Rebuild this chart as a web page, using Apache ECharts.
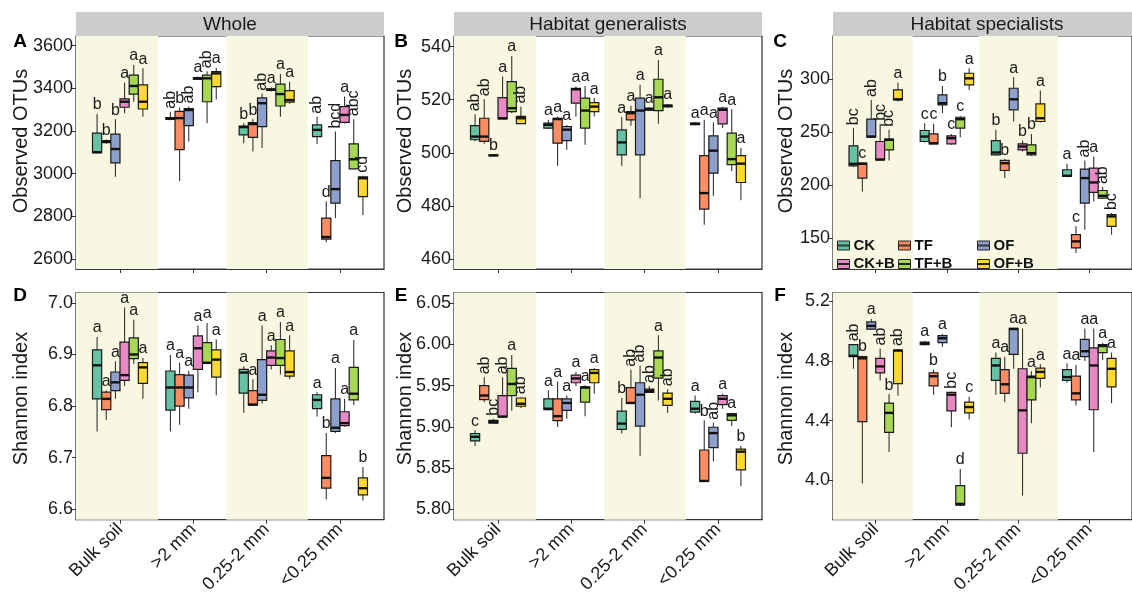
<!DOCTYPE html>
<html>
<head>
<meta charset="utf-8">
<script src="https://cdn.jsdelivr.net/npm/echarts@6/dist/echarts.min.js"></script>
<style>
  html, body { margin: 0; padding: 0; background: #fff; }
  #chart { width: 1132px; height: 596px; }
</style>
</head>
<body>
<div id="chart"></div>
<script>
// Soil aggregate fractions and fertilisation treatments
const fractions = ['Bulk soil', '>2 mm', '0.25-2 mm', '<0.25 mm'];
const treatments = ['CK', 'TF', 'OF', 'CK+B', 'TF+B', 'OF+B'];
const treatmentColors = ['#66C2A5', '#FC8D62', '#8DA0CB', '#E78AC3', '#A6D854', '#FFD92F'];

// Box statistics: [treatment][fraction] = [min, Q1, median, Q3, max]
const otuWhole = [
  [[3095, 3098, 3100, 3190, 3280], [3250, 3254, 3258, 3262, 3290], [3142, 3181, 3218, 3223, 3236], [3139, 3173, 3205, 3228, 3267]],
  [[3140, 3145, 3150, 3155, 3160], [2965, 3112, 3260, 3292, 3310], [3103, 3170, 3232, 3239, 3255], [2677, 2692, 2702, 2791, 2869]],
  [[2985, 3050, 3115, 3185, 3255], [3150, 3225, 3298, 3305, 3315], [3120, 3220, 3330, 3355, 3375], [2791, 2861, 2927, 3061, 3197]],
  [[3283, 3311, 3337, 3350, 3427], [3440, 3443, 3446, 3450, 3455], [3385, 3390, 3393, 3397, 3405], [3235, 3240, 3275, 3314, 3361]],
  [[3337, 3373, 3411, 3462, 3509], [3236, 3337, 3447, 3462, 3480], [3267, 3317, 3373, 3420, 3467], [3020, 3022, 3067, 3139, 3255]],
  [[3267, 3303, 3337, 3416, 3494], [3348, 3408, 3470, 3478, 3495], [3328, 3335, 3345, 3389, 3431], [2806, 2892, 2978, 2985, 2990]]
];
const otuGeneralists = [
  [[504.3, 504.9, 506.1, 510.2, 514.5], [509.0, 509.3, 510.5, 511.2, 512.4], [495.1, 499.2, 503.9, 508.6, 513.4], [510.4, 510.6, 510.9, 511.2, 511.5]],
  [[503.4, 504.3, 506.1, 513.0, 520.2], [495.1, 503.6, 512.7, 513.0, 513.7], [510.2, 512.4, 514.9, 515.5, 517.7], [472.9, 478.8, 484.8, 498.9, 512.4]],
  [[498.8, 498.9, 499.0, 499.2, 499.4], [501.1, 504.6, 508.7, 509.9, 510.5], [482.9, 499.2, 515.9, 520.6, 525.6], [483.8, 492.3, 500.8, 506.4, 511.4]],
  [[512.7, 512.8, 513.0, 520.8, 528.7], [513.7, 518.7, 523.9, 524.3, 525.0], [515.8, 516.1, 516.4, 516.8, 517.2], [509.3, 510.9, 516.2, 516.8, 517.3]],
  [[514.9, 515.5, 516.8, 526.8, 536.5], [503.0, 509.3, 515.9, 520.6, 525.2], [510.9, 515.9, 520.9, 527.7, 535.0], [493.0, 495.5, 497.6, 507.4, 516.4]],
  [[510.9, 511.0, 513.0, 513.7, 517.4], [513.7, 515.5, 517.4, 518.9, 520.6], [517.0, 517.3, 517.7, 518.0, 518.4], [482.1, 488.8, 495.9, 498.9, 501.8]]
];
const otuSpecialists = [
  [[217.0, 218.2, 220.1, 237.1, 253.8], [240.2, 241.2, 245.9, 251.6, 258.5], [228.0, 228.6, 230.8, 242.1, 252.2], [207.5, 208.2, 208.8, 214.5, 220.1]],
  [[194.0, 206.6, 220.1, 220.7, 221.5], [238.5, 239.0, 239.6, 248.4, 257.9], [206.6, 213.8, 220.7, 223.3, 224.5], [135.8, 140.6, 146.8, 153.1, 161.0]],
  [[245.0, 245.3, 245.9, 262.3, 280.5], [267.9, 275.8, 277.4, 285.2, 293.7], [260.1, 271.1, 281.1, 291.5, 301.9], [157.8, 183.0, 206.6, 215.1, 223.3]],
  [[223.5, 223.9, 224.2, 241.2, 257.9], [238.0, 239.0, 244.3, 246.5, 248.4], [231.8, 233.3, 236.5, 239.0, 242.1], [184.6, 193.1, 202.5, 216.0, 227.0]],
  [[223.3, 233.3, 242.8, 243.4, 252.2], [245.3, 253.8, 262.3, 264.1, 265.4], [227.7, 228.6, 230.2, 238.0, 248.4], [186.8, 187.7, 189.9, 194.9, 198.1]],
  [[278.9, 280.5, 281.1, 289.9, 296.9], [289.9, 294.7, 300.9, 305.7, 310.4], [259.1, 260.1, 263.2, 276.7, 289.3], [153.1, 161.0, 170.4, 172.0, 173.6]]
];
const shannonWhole = [
  [[6.751, 6.814, 6.879, 6.909, 6.934], [6.751, 6.792, 6.836, 6.868, 6.899], [6.787, 6.825, 6.865, 6.871, 6.877], [6.780, 6.795, 6.812, 6.822, 6.827]],
  [[6.773, 6.793, 6.814, 6.827, 6.830], [6.764, 6.800, 6.836, 6.861, 6.884], [6.801, 6.802, 6.803, 6.830, 6.852], [6.619, 6.641, 6.661, 6.704, 6.748]],
  [[6.814, 6.830, 6.846, 6.866, 6.887], [6.795, 6.816, 6.836, 6.860, 6.868], [6.805, 6.811, 6.822, 6.890, 6.956], [6.748, 6.751, 6.758, 6.814, 6.874]],
  [[6.839, 6.850, 6.860, 6.924, 6.991], [6.827, 6.871, 6.912, 6.936, 6.956], [6.871, 6.879, 6.894, 6.907, 6.918], [6.760, 6.762, 6.767, 6.789, 6.814]],
  [[6.882, 6.892, 6.900, 6.932, 6.967], [6.881, 6.883, 6.884, 6.923, 6.961], [6.861, 6.879, 6.893, 6.929, 6.963], [6.802, 6.812, 6.824, 6.875, 6.928]],
  [[6.814, 6.844, 6.875, 6.884, 6.893], [6.821, 6.856, 6.890, 6.909, 6.929], [6.852, 6.858, 6.866, 6.907, 6.937], [6.617, 6.628, 6.641, 6.661, 6.682]]
];
const shannonGeneralists = [
  [[5.877, 5.883, 5.888, 5.892, 5.896], [5.920, 5.921, 5.922, 5.934, 5.9445], [5.892, 5.897, 5.904, 5.919, 5.935], [5.916, 5.918, 5.922, 5.931, 5.938]],
  [[5.930, 5.933, 5.938, 5.950, 5.960], [5.900, 5.9075, 5.913, 5.934, 5.955], [5.928, 5.9287, 5.929, 5.9476, 5.9693], [5.834, 5.8343, 5.8345, 5.872, 5.908]],
  [[5.904, 5.9045, 5.906, 5.908, 5.910], [5.910, 5.920, 5.929, 5.934, 5.938], [5.865, 5.901, 5.939, 5.9535, 5.9744], [5.858, 5.875, 5.8925, 5.8996, 5.905]],
  [[5.911, 5.912, 5.9125, 5.938, 5.960], [5.9496, 5.9535, 5.9587, 5.9626, 5.9665], [5.9413, 5.9417, 5.9437, 5.9457, 5.9496], [5.922, 5.927, 5.934, 5.938, 5.940]],
  [[5.920, 5.938, 5.952, 5.971, 5.987], [5.913, 5.930, 5.9476, 5.9484, 5.9505], [5.932, 5.959, 5.984, 5.992, 6.011], [5.901, 5.908, 5.914, 5.916, 5.917]],
  [[5.923, 5.925, 5.928, 5.935, 5.936], [5.940, 5.9535, 5.9654, 5.9693, 5.9713], [5.917, 5.926, 5.934, 5.941, 5.9457], [5.828, 5.848, 5.870, 5.873, 5.877]]
];
const shannonSpecialists = [
  [[4.748, 4.829, 4.835, 4.910, 4.912], [4.905, 4.910, 4.918, 4.927, 4.935], [4.574, 4.670, 4.770, 4.818, 4.857], [4.655, 4.670, 4.692, 4.742, 4.785]],
  [[3.978, 4.393, 4.818, 4.829, 4.836], [4.574, 4.633, 4.698, 4.720, 4.742], [4.524, 4.583, 4.644, 4.742, 4.829], [4.502, 4.539, 4.583, 4.698, 4.775]],
  [[5.010, 5.0145, 5.036, 5.0625, 5.084], [4.895, 4.923, 4.953, 4.971, 4.982], [4.748, 4.844, 5.015, 5.019, 5.023], [4.801, 4.829, 4.866, 4.945, 5.019]],
  [[4.670, 4.720, 4.764, 4.818, 4.884], [4.356, 4.465, 4.574, 4.589, 4.594], [3.897, 4.181, 4.469, 4.748, 5.019], [4.190, 4.473, 4.770, 4.888, 5.019]],
  [[4.190, 4.321, 4.452, 4.517, 4.578], [3.825, 3.832, 3.841, 3.963, 4.076], [4.382, 4.539, 4.692, 4.698, 4.731], [4.807, 4.857, 4.901, 4.910, 4.923]],
  [[4.567, 4.648, 4.870, 4.873, 4.880], [4.408, 4.452, 4.491, 4.524, 4.561], [4.622, 4.683, 4.727, 4.753, 4.779], [4.517, 4.626, 4.748, 4.818, 4.857]]
];

// Significance letters: [treatment][fraction]
const lettersOtuWhole = [
  ['b', 'ab', 'b', 'ab'], ['b', 'b', 'b', 'd'], ['b', 'ab', 'ab', 'bcd'],
  ['a', 'a', 'a', 'a'], ['a', 'ab', 'a', 'abc'], ['a', 'a', 'a', 'cd']
];
const lettersOtuGeneralists = [
  ['ab', 'a', 'a', 'a'], ['ab', 'a', 'a', 'a'], ['b', 'a', 'a', 'a'],
  ['a', 'a', 'a', 'a'], ['a', 'a', 'a', 'a'], ['ab', 'a', 'a', 'a']
];
const lettersOtuSpecialists = [
  ['bc', 'c', 'b', 'a'], ['c', 'c', 'b', 'c'], ['ab', 'b', 'a', 'ab'],
  ['bc', 'c', 'b', 'a'], ['bc', 'c', 'b', 'ab'], ['a', 'a', 'a', 'bc']
];
const lettersShannonWhole = [
  ['a', 'a', 'a', 'a'], ['a', 'a', 'a', 'b'], ['a', 'a', 'a', 'a'],
  ['a', 'a', 'a', 'a'], ['a', 'a', 'a', 'a'], ['a', 'a', 'a', 'b']
];
const lettersShannonGeneralists = [
  ['c', 'a', 'b', 'a'], ['ab', 'a', 'ab', 'b'], ['bc', 'a', 'ab', 'ab'],
  ['ab', 'a', 'ab', 'a'], ['a', 'a', 'a', 'a'], ['ab', 'a', 'ab', 'b']
];
const lettersShannonSpecialists = [
  ['ab', 'a', 'a', 'a'], ['b', 'b', 'a', 'a'], ['a', 'a', 'a', 'a'],
  ['ab', 'bc', 'a', 'a'], ['b', 'd', 'a', 'a'], ['ab', 'c', 'a', 'a']
];

// Y-axis tick labels per panel
const ticksOtuWhole = [2600, 2800, 3000, 3200, 3400, 3600];
const ticksOtuGeneralists = [460, 480, 500, 520, 540];
const ticksOtuSpecialists = [150, 200, 250, 300];
const ticksShannonWhole = [6.6, 6.7, 6.8, 6.9, 7.0];
const ticksShannonGeneralists = [5.80, 5.85, 5.90, 5.95, 6.00, 6.05];
const ticksShannonSpecialists = [4.0, 4.4, 4.8, 5.2];

// Panel layout
const FONT = '"Liberation Sans", Arial, Helvetica, sans-serif';
const TEXT = '#1a1a1a';
const colLefts = [76, 454, 833];
const rowTops = [36, 292.5];
const plotW = 308, plotH = 233;
const dodgeStep = 0.125;

const panels = [
  { stats: otuWhole, letters: lettersOtuWhole, range: [2552, 3645.5], ticks: ticksOtuWhole, dec: 0, col: 0, row: 0, tag: 'A', strip: 'Whole', title: 'Observed OTUs' },
  { stats: otuGeneralists, letters: lettersOtuGeneralists, range: [456.2, 544.0], ticks: ticksOtuGeneralists, dec: 0, col: 1, row: 0, tag: 'B', strip: 'Habitat generalists', title: 'Observed OTUs' },
  { stats: otuSpecialists, letters: lettersOtuSpecialists, range: [120.7, 340.9], ticks: ticksOtuSpecialists, dec: 0, col: 2, row: 0, tag: 'C', strip: 'Habitat specialists', title: 'Observed OTUs' },
  { stats: shannonWhole, letters: lettersShannonWhole, range: [6.580, 7.020], ticks: ticksShannonWhole, dec: 1, col: 0, row: 1, tag: 'D', title: 'Shannon index' },
  { stats: shannonGeneralists, letters: lettersShannonGeneralists, range: [5.7876, 6.0628], ticks: ticksShannonGeneralists, dec: 2, col: 1, row: 1, tag: 'E', title: 'Shannon index' },
  { stats: shannonSpecialists, letters: lettersShannonSpecialists, range: [3.735, 5.260], ticks: ticksShannonSpecialists, dec: 1, col: 2, row: 1, tag: 'F', title: 'Shannon index' }
];

const grids = [], xAxes = [], yAxes = [], series = [], graphics = [];

panels.forEach((p, pi) => {
  const left = colLefts[p.col], top = rowTops[p.row];
  grids.push({
    left: left, top: top, width: plotW, height: plotH,
    show: true, backgroundColor: '#ffffff', borderColor: '#333333', borderWidth: 1.2
  });
  xAxes.push({
    type: 'value', gridIndex: pi, min: 0.4, max: 4.6,
    axisLine: { show: true, onZero: false, lineStyle: { color: '#333333', width: 1.2 } },
    axisTick: { show: true, length: 4, customValues: [1, 2, 3, 4], lineStyle: { color: '#333333' } },
    axisLabel: {
      show: p.row === 1, customValues: [1, 2, 3, 4], rotate: 45, margin: 7,
      fontSize: 18, fontFamily: FONT, color: TEXT,
      formatter: v => fractions[Math.round(v) - 1]
    },
    splitLine: { show: false }
  });
  yAxes.push({
    type: 'value', gridIndex: pi, min: p.range[0], max: p.range[1],
    axisLine: { show: true, lineStyle: { color: '#333333', width: 1.2 } },
    axisTick: { show: true, length: 4, customValues: p.ticks, lineStyle: { color: '#333333' } },
    axisLabel: {
      customValues: p.ticks, margin: 3, fontSize: 18, fontFamily: FONT, color: TEXT,
      formatter: v => Number(v).toFixed(p.dec)
    },
    splitLine: { show: false }
  });

  // alternating shaded fraction bands
  series.push({
    type: 'custom', xAxisIndex: pi, yAxisIndex: pi, z: 1, silent: true,
    data: [], renderItem: () => null,
    markArea: {
      silent: true, itemStyle: { color: '#f8f8e2' },
      data: [[{ xAxis: 0.4 }, { xAxis: 1.52 }], [{ xAxis: 2.45 }, { xAxis: 3.56 }]]
    }
  });

  treatments.forEach((tName, t) => {
    const offset = (t - 2.5) * dodgeStep;
    series.push({
      type: 'custom', name: tName, xAxisIndex: pi, yAxisIndex: pi, z: 3,
      itemStyle: { color: treatmentColors[t] },
      data: fractions.map((f, i) => [i + 1 + offset].concat(p.stats[t][i])),
      renderItem: (params, api) => {
        const x = api.value(0);
        const mn = api.value(1), q1 = api.value(2), md = api.value(3), q3 = api.value(4), mx = api.value(5);
        const w = api.size([dodgeStep, 0])[0];
        const pMin = api.coord([x, mn]), pQ1 = api.coord([x, q1]), pMd = api.coord([x, md]);
        const pQ3 = api.coord([x, q3]), pMax = api.coord([x, mx]);
        const cx = pMin[0];
        const letter = p.letters[t][params.dataIndex];
        const vertical = letter.length > 1;
        return {
          type: 'group',
          children: [
            { type: 'line', shape: { x1: cx, y1: pMax[1], x2: cx, y2: pQ3[1] }, style: { stroke: '#333333', lineWidth: 1.1 } },
            { type: 'line', shape: { x1: cx, y1: pQ1[1], x2: cx, y2: pMin[1] }, style: { stroke: '#333333', lineWidth: 1.1 } },
            { type: 'rect', shape: { x: cx - w / 2, y: pQ3[1], width: w, height: Math.max(pQ1[1] - pQ3[1], 0.5) },
              style: { fill: treatmentColors[t], stroke: '#1a1a1a', lineWidth: 1.2 } },
            { type: 'line', shape: { x1: cx - w / 2, y1: pMd[1], x2: cx + w / 2, y2: pMd[1] }, style: { stroke: '#111111', lineWidth: 2.4 } },
            vertical
              ? { type: 'text', x: cx, y: pMax[1] - 3, rotation: Math.PI / 2,
                  style: { text: letter, fontSize: 16, fontFamily: FONT, fill: TEXT, align: 'left', verticalAlign: 'middle' } }
              : { type: 'text', x: cx, y: pMax[1] - 1,
                  style: { text: letter, fontSize: 16, fontFamily: FONT, fill: TEXT, align: 'center', verticalAlign: 'bottom' } }
          ]
        };
      }
    });
  });

  // facet strip on the top row
  if (p.strip) {
    graphics.push({ type: 'rect', left: left, top: 12, shape: { width: plotW, height: 24 }, style: { fill: '#cccccc' }, z: 10 });
    graphics.push({ type: 'text', x: left + plotW / 2, y: 24.5, z: 11,
      style: { text: p.strip, fontSize: 19, fontFamily: FONT, fill: TEXT, align: 'center', verticalAlign: 'middle' } });
  }
  // panel tag
  const tagX = [20, 401, 780][p.col];
  const tagY = [42, 296][p.row];
  graphics.push({ type: 'text', x: tagX, y: tagY, z: 11,
    style: { text: p.tag, fontSize: 19, fontWeight: 'bold', fontFamily: FONT, fill: '#000', align: 'center', verticalAlign: 'middle' } });
  // y-axis title
  const titleX = [21, 405, 786][p.col];
  const titleY = [141, 398.5][p.row];
  graphics.push({ type: 'text', x: titleX, y: titleY, rotation: Math.PI / 2, z: 11,
    style: { text: p.title, fontSize: 20, fontFamily: FONT, fill: TEXT, align: 'center', verticalAlign: 'middle' } });
});

// legend inside the specialists OTU panel, three columns by two rows
const legendIcon = 'path://M0,0L12,0L12,9L0,9Z M0,4L12,4L12,5L0,5Z';
const legendCols = [837, 898, 977];
const legendRows = [238, 256.5];
const legends = treatments.map((tName, t) => ({
  left: legendCols[t % 3], top: legendRows[Math.floor(t / 3)],
  orient: 'horizontal', selectedMode: false, itemWidth: 12, itemHeight: 9, itemGap: 4,
  padding: 0,
  textStyle: { fontSize: 15, fontWeight: 'bold', fontFamily: FONT, color: '#111', padding: [0, 0, 0, -1] },
  data: [{ name: tName, icon: legendIcon,
    itemStyle: { color: treatmentColors[t], borderColor: '#222222', borderWidth: 1 } }]
}));

const chart = echarts.init(document.getElementById('chart'), null, { renderer: 'canvas' });
chart.setOption({
  animation: false,
  backgroundColor: '#ffffff',
  textStyle: { fontFamily: FONT },
  grid: grids,
  xAxis: xAxes,
  yAxis: yAxes,
  legend: legends,
  series: series,
  graphic: graphics
});
</script>
</body>
</html>
